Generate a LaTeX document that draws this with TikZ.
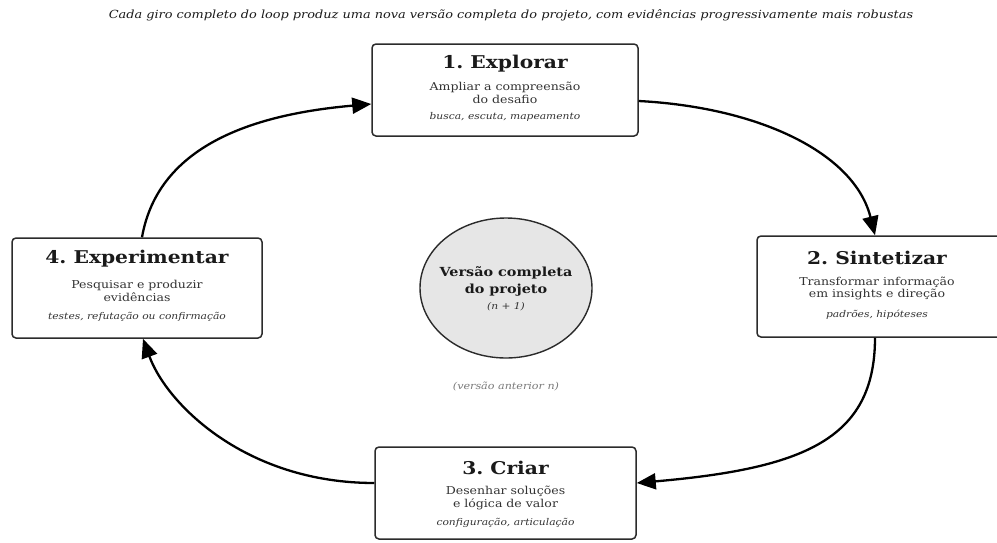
\documentclass[tikz,border=0pt]{standalone}
\usepackage{fontspec}
\setmainfont{DejaVu Serif}[FakeStretch=1.15]
\usetikzlibrary{arrows.meta,calc,shapes.geometric}
\frenchspacing
\definecolor{edge}{HTML}{2B2B2B}
\definecolor{txt}{HTML}{1A1A1A}
\definecolor{subtxt}{HTML}{333333}
\definecolor{faint}{HTML}{7A7A7A}
\definecolor{core}{HTML}{E6E6E6}
\tikzset{
  stagebox/.style={draw=edge, line width=1.5pt, rounded corners=4pt, fill=white, inner sep=0pt},
  stagetitle/.style={font=\fontsize{17.6}{20}\selectfont\bfseries, text=txt, inner sep=0pt},
  stagebody/.style={font=\fontsize{10.9}{12.8}\selectfont, text=subtxt, inner sep=0pt, align=center},
  stagenote/.style={font=\fontsize{9.3}{11}\selectfont\itshape, text=subtxt, inner sep=0pt},
  flow/.style={draw=black, line width=2.3pt, -{Triangle[length=19pt,width=16pt]}},
}
\begin{document}
\begin{tikzpicture}[x=1pt,y=1pt]
\useasboundingbox (0,0) rectangle (997,-542);
\clip (0,0) rectangle (997,-542);
% title
\node[font=\fontsize{11.2}{13}\selectfont\itshape, text=txt, inner sep=0pt] (title) at (511,-15) {Cada giro completo do loop produz uma nova versão completa do projeto, com evidências progressivamente mais robustas};
% boxes
\node[stagebox, minimum width=266pt, minimum height=92pt] (b1) at (505,-90) {};
\node[stagebox, minimum width=250pt, minimum height=101pt] (b2) at (882,-286.5) {};
\node[stagebox, minimum width=250pt, minimum height=100pt] (b4) at (137,-288) {};
\node[stagebox, minimum width=261pt, minimum height=92pt] (b3) at (505.5,-493) {};
% box 1
\node[stagetitle] (t1) at (505,-64) {1. Explorar};
\node[stagebody] (d1) at (505,-93) {Ampliar a compreensão\\do desafio};
\node[stagenote] (n1) at (505,-117) {busca, escuta, mapeamento};
% box 2
\node[stagetitle] (t2) at (877,-258) {2. Sintetizar};
\node[stagebody] (d2) at (877,-288.5) {Transformar informação\\em insights e direção};
\node[stagenote] (n2) at (877,-315) {padrões, hipóteses};
% box 4
\node[stagetitle] (t4) at (137,-259) {4. Experimentar};
\node[stagebody] (d4) at (137,-291) {Pesquisar e produzir\\evidências};
\node[stagenote] (n4) at (137,-317) {testes, refutação ou confirmação};
% box 3
\node[stagetitle] (t3) at (505.5,-468) {3. Criar};
\node[stagebody] (d3) at (505.5,-498) {Desenhar soluções\\e lógica de valor};
\node[stagenote] (n3) at (505.5,-523) {configuração, articulação};
% centre
\node[draw=edge, line width=1.4pt, fill=core, ellipse, minimum width=172pt, minimum height=140pt, inner sep=0pt] (core) at (506,-288) {};
\node[font=\fontsize{12.5}{17}\selectfont\bfseries, text=txt, align=center, inner sep=0pt] (ct) at (506,-281.5) {Versão completa\\do projeto};
\node[font=\fontsize{9.3}{11}\selectfont\itshape, text=subtxt, inner sep=0pt] (cn) at (506,-307) {(n + 1)};
\node[font=\fontsize{9.7}{11}\selectfont\itshape, text=faint, inner sep=0pt] (prev) at (506,-386) {(versão anterior n)};
% connectors
\draw[flow] ([xshift=5pt]b4.north) to[out=80,in=185,out distance=95pt,in distance=115pt] ([yshift=-14pt]b1.west);
\draw[flow] ([yshift=-11pt]b1.east) to[out=-3,in=104,out distance=120pt,in distance=85pt] ([xshift=-7pt]b2.north);
\draw[flow] ([xshift=-7pt]b2.south) to[out=-90,in=5,out distance=102pt,in distance=167pt] ([yshift=10pt]b3.east);
\draw[flow] ([yshift=10pt]b3.west) to[out=180,in=-70,out distance=128pt,in distance=70pt] ([xshift=6pt]b4.south);
\end{tikzpicture}
\end{document}
